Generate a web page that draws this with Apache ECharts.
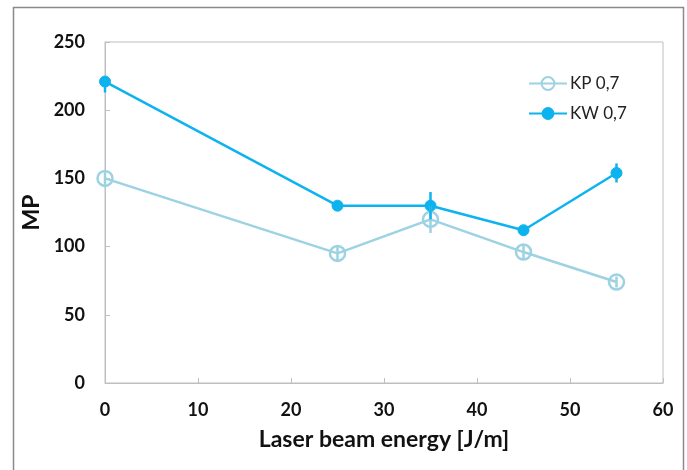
<!DOCTYPE html>
<html><head><meta charset="utf-8">
<script src="https://cdn.jsdelivr.net/npm/echarts@6/dist/echarts.min.js"></script>
<style>html,body{margin:0;padding:0;background:#fff}#c{width:687px;height:470px}</style>
</head><body><div id="c"></div>
<script>
var energy = [0, 25, 35, 45, 55];
var kpValues = [150, 95, 120, 96, 74];
var kwValues = [221, 130, 130, 112, 154];
var kpErrLow = [5, 5, 10, 5, 4];
var kpErrHigh = [5, 5, 10, 5, 4];
var kwErrLow = [8, 2, 10, 2, 7];
var kwErrHigh = [0, 2, 10, 2, 7];
var seriesNames = ['KP 0,7', 'KW 0,7'];
var xTicks = [0, 10, 20, 30, 40, 50, 60];
var yTicks = [0, 50, 100, 150, 200, 250];

var kpColor = '#9DD2E2';
var kwColor = '#0CB3EE';
var font = 'Lato, "Open Sans", sans-serif';

function pairs(vals){ return energy.map(function(e,i){ return [e, vals[i]]; }); }
function errData(vals, lo, hi){ return energy.map(function(e,i){ return [e, vals[i]-lo[i], vals[i]+hi[i]]; }); }
function errSeries(data, color, z){
  return {
    type: 'custom', data: data, silent: true, z: z,
    renderItem: function(params, api){
      var p1 = api.coord([api.value(0), api.value(1)]);
      var p2 = api.coord([api.value(0), api.value(2)]);
      return { type: 'line', shape: {x1: p1[0], y1: p1[1], x2: p2[0], y2: p2[1]},
               style: {stroke: color, lineWidth: 2.5} };
    }
  };
}

var chart = echarts.init(document.getElementById('c'), null, {renderer: 'canvas'});
chart.setOption({
  animation: false,
  backgroundColor: '#fff',
  graphic: [{ type: 'rect', shape: {x: 13.5, y: 7.5, width: 670, height: 480},
              style: {fill: 'none', stroke: '#8a8a8a', lineWidth: 1.5}, z: -1 }],
  grid: { left: 105, right: 24, top: 42, bottom: 87, show: true, borderColor: '#BFBFBF', borderWidth: 1 },
  legend: {
    data: [seriesNames[0], seriesNames[1]],
    orient: 'vertical', left: 523, top: 70, itemGap: 13,
    itemWidth: 38, itemHeight: 16,
    textStyle: { fontFamily: font, fontSize: 17, color: '#222', padding: [0, 0, 0, -2] }
  },
  xAxis: {
    type: 'value', min: 0, max: 60, interval: 10,
    name: 'Laser beam energy [J/m]', nameLocation: 'middle', nameGap: 45,
    nameTextStyle: { fontFamily: font, fontSize: 23, fontWeight: 'bold', color: '#111' },
    axisLine: { lineStyle: { color: '#BFBFBF', width: 1 } },
    axisTick: { inside: true, length: 5, lineStyle: { color: '#BFBFBF' } },
    axisLabel: { fontFamily: font, fontSize: 18, fontWeight: 'bold', color: '#111', margin: 18,
      formatter: function(v){ return xTicks.indexOf(v) >= 0 ? String(v) : ''; } },
    splitLine: { show: false }
  },
  yAxis: {
    type: 'value', min: 0, max: 250, interval: 50,
    name: 'MP', nameLocation: 'middle', nameGap: 56,
    nameTextStyle: { fontFamily: font, fontSize: 23, fontWeight: 'bold', color: '#111' },
    axisLine: { show: true, lineStyle: { color: '#BFBFBF', width: 1 } },
    axisTick: { show: true, inside: true, length: 5, lineStyle: { color: '#BFBFBF' } },
    axisLabel: { fontFamily: font, fontSize: 18, fontWeight: 'bold', color: '#111', margin: 20,
      formatter: function(v){ return yTicks.indexOf(v) >= 0 ? String(v) : ''; } },
    splitLine: { show: false }
  },
  series: [
    {
      name: seriesNames[0], type: 'line', data: pairs(kpValues), z: 3,
      symbol: 'circle', symbolSize: 15, showAllSymbol: true,
      lineStyle: { color: kpColor, width: 2.5 },
      itemStyle: { color: 'rgba(255,255,255,0)', borderColor: kpColor, borderWidth: 2.5 }
    },
    {
      name: seriesNames[1], type: 'line', data: pairs(kwValues), z: 4,
      symbol: 'circle', symbolSize: 11, showAllSymbol: true,
      lineStyle: { color: kwColor, width: 2.5 },
      itemStyle: { color: kwColor, borderColor: kwColor }
    },
    errSeries(errData(kpValues, kpErrLow, kpErrHigh), kpColor, 5),
    errSeries(errData(kwValues, kwErrLow, kwErrHigh), kwColor, 6)
  ]
});
</script></body></html>
